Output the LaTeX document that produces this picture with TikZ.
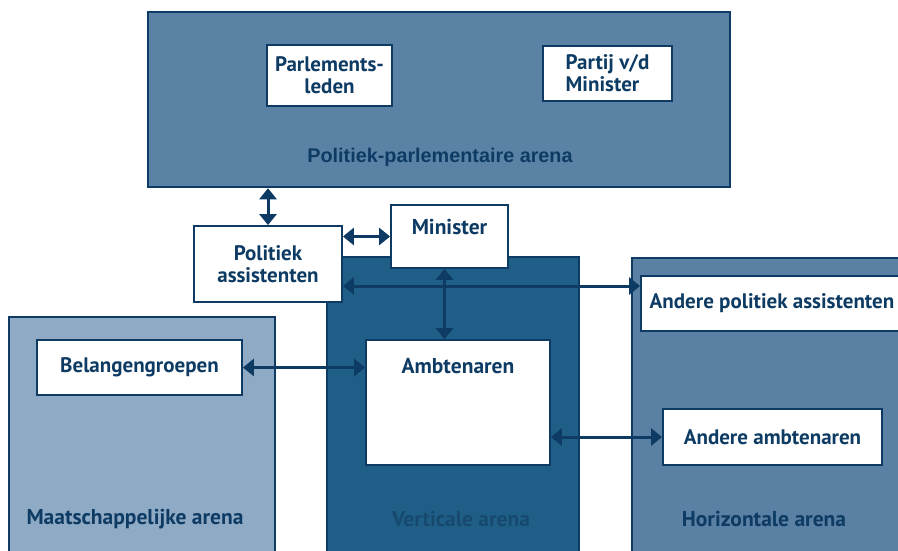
\documentclass[tikz,border=0pt]{standalone}
\usepackage{fontspec}
\setmainfont{PT Sans}
\newfontfamily\headfont{Liberation Sans}
\usetikzlibrary{arrows.meta}
\definecolor{navy}{HTML}{0D3B63}
\definecolor{topfill}{HTML}{5A82A5}
\definecolor{vertfill}{HTML}{1F5F87}
\definecolor{horfill}{HTML}{5A80A3}
\definecolor{maatfill}{HTML}{8FAAC5}
\definecolor{vertlabel}{HTML}{17496F}
\tikzset{
  arena/.style={draw=navy, line width=2.5pt, inner sep=0pt},
  wbox/.style={draw=navy, fill=white, line width=1.8pt, inner sep=0pt, text=navy,
    font=\fontsize{21}{22}\selectfont\bfseries, align=center},
  lbl/.style={text=navy, font=\fontsize{21.5}{23}\selectfont\bfseries, inner sep=0pt},
  dbl/.style={draw=navy, line width=3pt,
    {Triangle[width=17pt,length=11pt]}-{Triangle[width=17pt,length=11pt]}}
}
\begin{document}
\begin{tikzpicture}[x=1pt,y=-1pt]
\useasboundingbox (0,0) rectangle (898,550);
\clip (0,0) rectangle (898,550);
% arenas
\node[arena, fill=topfill, minimum width=582pt, minimum height=175pt] (parl) at (439,99.5) {};
\node[text=navy, font=\headfont\fontsize{19.8}{21}\selectfont\bfseries] (parllbl) at (440,157) {Politiek-parlementaire arena};
\node[arena, fill=maatfill, minimum width=266pt, minimum height=240pt] (maat) at (142,437) {};
\node[arena, fill=vertfill, minimum width=252pt, minimum height=300pt] (vert) at (453,407) {};
\node[arena, fill=horfill, minimum width=273pt, minimum height=300pt] (hor) at (768.5,408) {};
\node[lbl] (maatlbl) at (135,519) {Maatschappelijke arena};
\node[lbl, text=vertlabel] (vertlbl) at (461,519) {Verticale arena};
\node[lbl] (horlbl) at (764,519) {Horizontale arena};
% boxes
\node[wbox, minimum width=125pt, minimum height=61pt] (parlled) at (329.5,75.5) {Parlements-\\leden};
\node[wbox, minimum width=129pt, minimum height=55pt, align=left] (partij) at (607.5,73.5) {Partij v/d\\Minister};
\node[wbox, minimum width=148pt, minimum height=76pt] (polass) at (268,264) {Politiek\\assistenten};
\node[wbox, minimum width=117pt, minimum height=63pt] (minister) at (449.5,236.5) {};
\node[lbl] (ministerlbl) at (449.5,227) {Minister};
\node[wbox, minimum width=184pt, minimum height=125pt] (ambt) at (458,402.5) {};
\node[lbl] (ambtlbl) at (458,366) {Ambtenaren};
\node[wbox, minimum width=205pt, minimum height=55pt] (belang) at (139.5,367.5) {Belangengroepen};
\node[wbox, minimum width=262pt, minimum height=55pt] (andpol) at (772,303.5) {Andere politiek assistenten};
\node[wbox, minimum width=219pt, minimum height=56pt] (andamb) at (772.5,437) {Andere ambtenaren};
% connectors
\draw[dbl] (polass.north) -- (polass.north |- parl.south);
\draw[dbl] (polass.east |- minister.west) -- (minister.west);
\draw[dbl] ([yshift=-22pt]polass.east) -- ([yshift=-22pt]polass.east -| andpol.west);
\draw[dbl] ([xshift=-5pt]minister.south) -- ([xshift=-5pt]minister.south |- ambt.north);
\draw[dbl] (belang.east) -- (belang.east -| ambt.west);
\draw[dbl] (andamb.west -| ambt.east) -- (andamb.west);
\end{tikzpicture}
\end{document}
